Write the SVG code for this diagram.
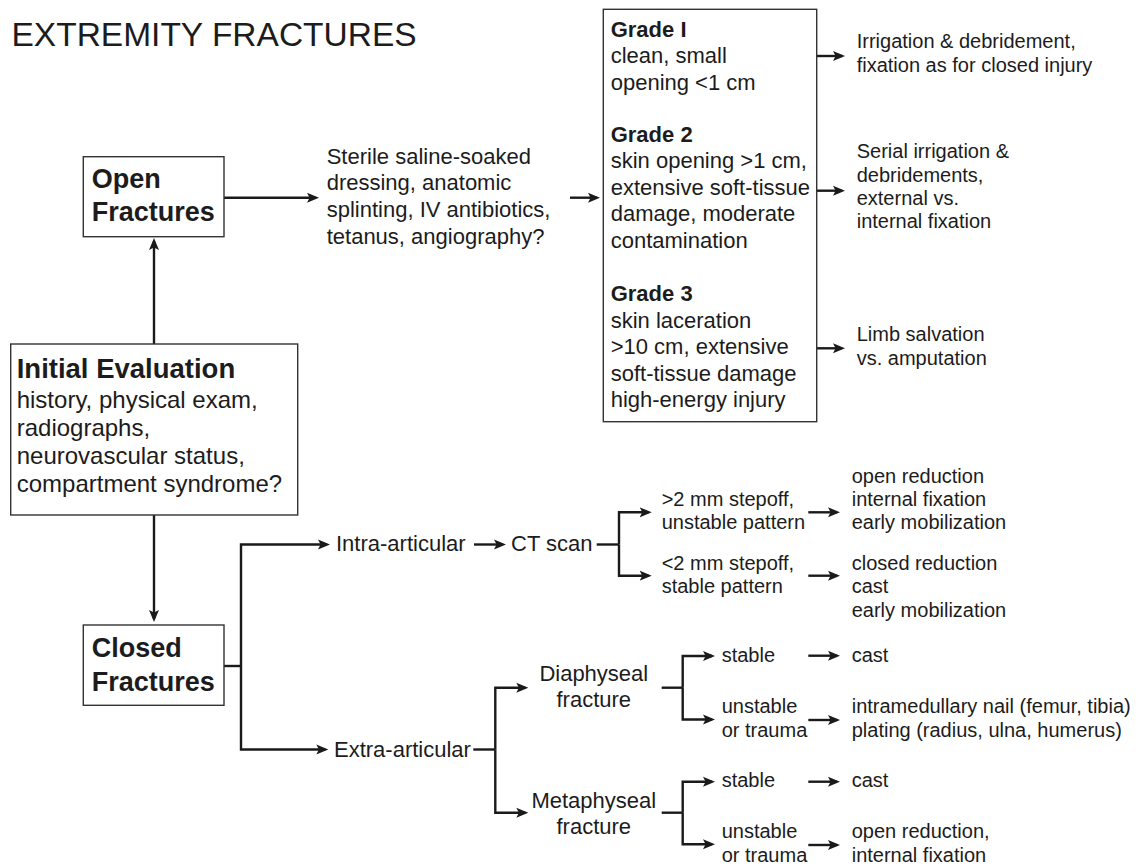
<svg xmlns="http://www.w3.org/2000/svg" width="1136" height="866" viewBox="0 0 1136 866">
  <defs>
    <marker id="arrow" markerUnits="userSpaceOnUse" markerWidth="13" markerHeight="11" viewBox="0 0 13 11" refX="9" refY="5.5" orient="auto">
      <path d="M0,0.5 L12,5.5 L0,10.5 L2.6,5.5 Z" fill="#1a1a1a"/>
    </marker>
    <style>
      text { font-family: "Liberation Sans", Arial, Helvetica, sans-serif; fill: #1c1c1c; }
      .title { font-size: 33.5px; }
      .hb { font-size: 27px; font-weight: bold; }
      .ib { font-size: 27.5px; font-weight: bold; }
      .t24 { font-size: 24px; }
      .t22 { font-size: 22px; }
      .g22 { font-size: 22px; font-weight: bold; }
      .t20 { font-size: 20px; }
      .box { fill: #ffffff; stroke: #333333; stroke-width: 1.4; }
      .conn path { fill: none; stroke: #1a1a1a; stroke-width: 2.4; stroke-linejoin: miter; }
      .conn .a { marker-end: url(#arrow); }
    </style>
  </defs>

  <rect width="1136" height="866" fill="#ffffff"/>

  <text class="title" x="11.5" y="46">EXTREMITY FRACTURES</text>

  <!-- connectors -->
  <g id="connectors" class="conn">
    <!-- open fractures branch -->
    <path class="a" d="M224,197.7 H316"/>
    <path class="a" d="M570,197.7 H597"/>
    <path class="a" d="M816.7,56 H842"/>
    <path class="a" d="M816.7,190.7 H842"/>
    <path class="a" d="M816.7,348.3 H842"/>
    <!-- initial evaluation up / down -->
    <path class="a" d="M154,344 V241"/>
    <path class="a" d="M154,515 V619"/>
    <!-- closed fractures split -->
    <path d="M224,666 H241"/>
    <path class="a" d="M241,666 V544.5 H327"/>
    <path class="a" d="M241,666 V749.5 H325.3"/>
    <!-- intra-articular -->
    <path class="a" d="M474,544.5 H503"/>
    <path d="M596.7,544.5 H619"/>
    <path class="a" d="M619,544.5 V512.3 H648.7"/>
    <path class="a" d="M619,544.5 V575.7 H648.7"/>
    <path class="a" d="M808.3,512.3 H837"/>
    <path class="a" d="M808.3,575.7 H837"/>
    <!-- extra-articular -->
    <path d="M473.3,749.5 H495.3"/>
    <path class="a" d="M495.3,749.5 V687.7 H525.3"/>
    <path class="a" d="M495.3,749.5 V812.7 H525.3"/>
    <!-- diaphyseal -->
    <path d="M661.7,687.7 H682.7"/>
    <path class="a" d="M682.7,687.7 V656 H712"/>
    <path class="a" d="M682.7,687.7 V719.5 H712"/>
    <!-- metaphyseal -->
    <path d="M661.7,812.7 H682.7"/>
    <path class="a" d="M682.7,812.7 V781.7 H712"/>
    <path class="a" d="M682.7,812.7 V844.3 H712"/>
    <!-- treatment arrows -->
    <path class="a" d="M808.3,655.7 H837"/>
    <path class="a" d="M808.3,720 H837"/>
    <path class="a" d="M808.3,781.7 H837"/>
    <path class="a" d="M808.3,845 H837"/>
  </g>

  <g id="open-fractures">
    <rect class="box" x="83.3" y="156.7" width="140.7" height="80"/>
    <text class="hb" x="91.7" y="188.3">Open</text>
    <text class="hb" x="91.7" y="220.7">Fractures</text>
  </g>

  <g id="open-care">
    <text class="t22" x="326.7" y="163.5">Sterile saline-soaked</text>
    <text class="t22" x="326.7" y="190.2">dressing, anatomic</text>
    <text class="t22" x="326.7" y="216.9">splinting, IV antibiotics,</text>
    <text class="t22" x="326.7" y="243.6">tetanus, angiography?</text>
  </g>

  <g id="grades">
    <rect class="box" x="603.3" y="9.3" width="213.4" height="412.4"/>
    <text class="g22" x="610.7" y="36.7">Grade I</text>
    <text class="t22" x="610.7" y="63.3">clean, small</text>
    <text class="t22" x="610.7" y="90">opening &lt;1 cm</text>
    <text class="g22" x="610.7" y="141.7">Grade 2</text>
    <text class="t22" x="610.7" y="168.3">skin opening &gt;1 cm,</text>
    <text class="t22" x="610.7" y="194.6">extensive soft-tissue</text>
    <text class="t22" x="610.7" y="221.4">damage, moderate</text>
    <text class="t22" x="610.7" y="248.2">contamination</text>
    <text class="g22" x="610.7" y="300.7">Grade 3</text>
    <text class="t22" x="610.7" y="327.5">skin laceration</text>
    <text class="t22" x="610.7" y="354">&gt;10 cm, extensive</text>
    <text class="t22" x="610.7" y="380.5">soft-tissue damage</text>
    <text class="t22" x="610.7" y="406.7">high-energy injury</text>
  </g>

  <g id="grade1-treatment">
    <text class="t20" x="856.7" y="48.3">Irrigation &amp; debridement,</text>
    <text class="t20" x="856.7" y="71.7">fixation as for closed injury</text>
  </g>
  <g id="grade2-treatment">
    <text class="t20" x="856.7" y="158.3">Serial irrigation &amp;</text>
    <text class="t20" x="856.7" y="181.7">debridements,</text>
    <text class="t20" x="856.7" y="205">external vs.</text>
    <text class="t20" x="856.7" y="228.3">internal fixation</text>
  </g>
  <g id="grade3-treatment">
    <text class="t20" x="856.7" y="340.7">Limb salvation</text>
    <text class="t20" x="856.7" y="365">vs. amputation</text>
  </g>

  <g id="initial-evaluation">
    <rect class="box" x="10.7" y="344" width="287" height="171"/>
    <text class="ib" x="16.7" y="378.3">Initial Evaluation</text>
    <text class="t24" x="16.7" y="408.3">history, physical exam,</text>
    <text class="t24" x="16.7" y="436">radiographs,</text>
    <text class="t24" x="16.7" y="463.7">neurovascular status,</text>
    <text class="t24" x="16.7" y="491.7">compartment syndrome?</text>
  </g>

  <g id="closed-fractures">
    <rect class="box" x="83.3" y="625" width="140.7" height="80.3"/>
    <text class="hb" x="91.7" y="657.3">Closed</text>
    <text class="hb" x="91.7" y="690.7">Fractures</text>
  </g>

  <g id="intra-articular">
    <text class="t22" x="336" y="550.7">Intra-articular</text>
  </g>
  <g id="ct-scan">
    <text class="t22" x="511" y="550.7">CT scan</text>
  </g>
  <g id="stepoff-large">
    <text class="t20" x="661.7" y="505.7">&gt;2 mm stepoff,</text>
    <text class="t20" x="661.7" y="529">unstable pattern</text>
  </g>
  <g id="stepoff-small">
    <text class="t20" x="661.7" y="570">&lt;2 mm stepoff,</text>
    <text class="t20" x="661.7" y="593.3">stable pattern</text>
  </g>
  <g id="orif">
    <text class="t20" x="851.7" y="482.7">open reduction</text>
    <text class="t20" x="851.7" y="505.7">internal fixation</text>
    <text class="t20" x="851.7" y="529">early mobilization</text>
  </g>
  <g id="closed-reduction">
    <text class="t20" x="851.7" y="570">closed reduction</text>
    <text class="t20" x="851.7" y="593.3">cast</text>
    <text class="t20" x="851.7" y="616.7">early mobilization</text>
  </g>

  <g id="extra-articular">
    <text class="t22" x="334" y="756.7">Extra-articular</text>
  </g>
  <g id="diaphyseal">
    <text class="t22" x="593.8" y="680.7" text-anchor="middle">Diaphyseal</text>
    <text class="t22" x="593.8" y="706.7" text-anchor="middle">fracture</text>
  </g>
  <g id="metaphyseal">
    <text class="t22" x="593.8" y="808.3" text-anchor="middle">Metaphyseal</text>
    <text class="t22" x="593.8" y="834.3" text-anchor="middle">fracture</text>
  </g>

  <g id="diaph-stable">
    <text class="t20" x="721.7" y="661.7">stable</text>
  </g>
  <g id="diaph-unstable">
    <text class="t20" x="721.7" y="712.7">unstable</text>
    <text class="t20" x="721.7" y="736.7">or trauma</text>
  </g>
  <g id="meta-stable">
    <text class="t20" x="721.7" y="786.7">stable</text>
  </g>
  <g id="meta-unstable">
    <text class="t20" x="721.7" y="838.3">unstable</text>
    <text class="t20" x="721.7" y="861.7">or trauma</text>
  </g>

  <g id="diaph-cast">
    <text class="t20" x="851.7" y="661.7">cast</text>
  </g>
  <g id="diaph-fixation">
    <text class="t20" x="851.7" y="712.7">intramedullary nail (femur, tibia)</text>
    <text class="t20" x="851.7" y="736.7">plating (radius, ulna, humerus)</text>
  </g>
  <g id="meta-cast">
    <text class="t20" x="851.7" y="786.7">cast</text>
  </g>
  <g id="meta-fixation">
    <text class="t20" x="851.7" y="838.3">open reduction,</text>
    <text class="t20" x="851.7" y="861.7">internal fixation</text>
  </g>
</svg>
